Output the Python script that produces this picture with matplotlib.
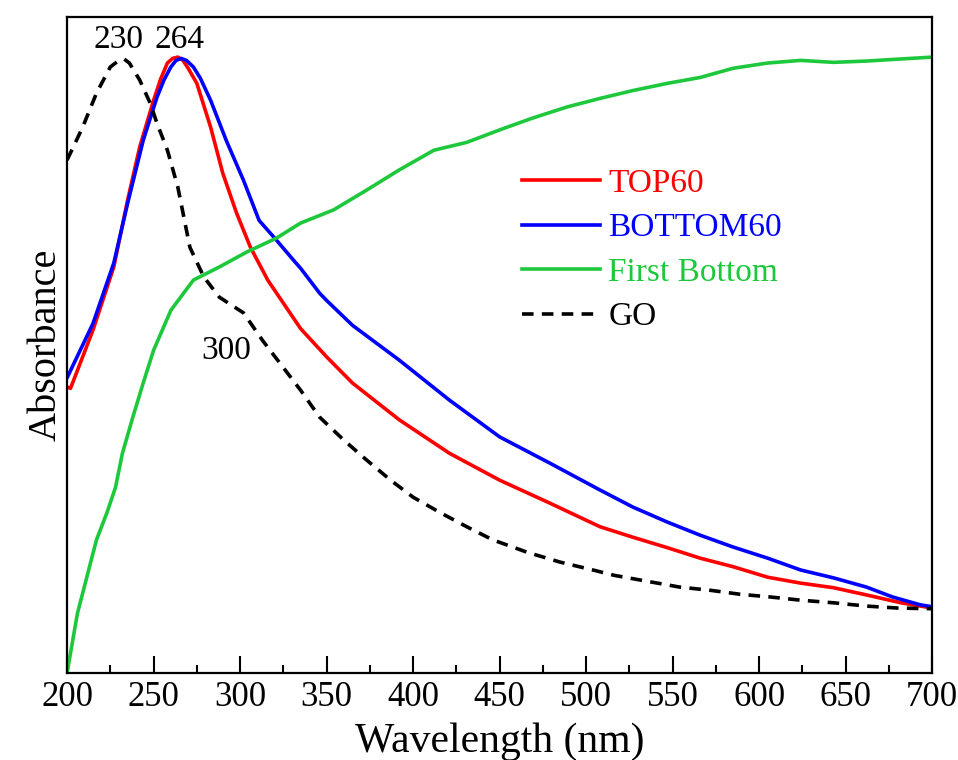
import numpy as np
import matplotlib as mpl
mpl.use("Agg")
import matplotlib.pyplot as plt

plt.rcParams["font.family"] = ["Liberation Serif", "DejaVu Serif"]

# UV-vis spectra (absorbance in arbitrary units)
top60_wl = [200, 202, 215, 227, 235, 242, 250, 254, 258, 261, 264, 267, 270, 275,
            283, 290, 298, 306, 316, 335, 350, 365, 392, 421, 450, 479, 508,
            527, 547, 566, 585, 605, 624, 643, 662, 682, 700]
top60_abs = [0.436, 0.434, 0.523, 0.619, 0.721, 0.802, 0.873, 0.905, 0.930, 0.937,
             0.939, 0.934, 0.922, 0.899, 0.832, 0.762, 0.701, 0.649, 0.599,
             0.525, 0.482, 0.442, 0.386, 0.335, 0.294, 0.259, 0.223, 0.207, 0.191,
             0.175, 0.162, 0.146, 0.137, 0.130, 0.119, 0.107, 0.099]

bottom60_wl = [200, 215, 227, 235, 244, 252, 256, 260, 263, 266, 269, 273, 277, 283,
               292, 302, 311, 321, 331, 335, 346, 350, 365, 392, 421, 450, 479, 508,
               527, 547, 566, 585, 605, 624, 643, 662, 677, 693, 700]
bottom60_abs = [0.450, 0.533, 0.625, 0.716, 0.812, 0.878, 0.904, 0.924, 0.934, 0.937,
                0.934, 0.924, 0.907, 0.873, 0.812, 0.751, 0.690, 0.660, 0.629, 0.617,
                0.579, 0.568, 0.530, 0.477, 0.416, 0.360, 0.320, 0.279, 0.253, 0.230,
                0.210, 0.192, 0.175, 0.157, 0.145, 0.131, 0.116, 0.104, 0.101]

first_wl = [200, 206, 212, 217, 223, 228, 232, 238, 244, 250, 260, 273, 288, 304,
            321, 335, 354, 373, 392, 412, 431, 450, 469, 489, 508, 527, 547, 566,
            585, 605, 624, 643, 662, 681, 700]
first_abs = [0.0, 0.091, 0.152, 0.203, 0.244, 0.283, 0.335, 0.390, 0.442, 0.492,
             0.553, 0.599, 0.619, 0.642, 0.663, 0.686, 0.706, 0.736, 0.767, 0.797,
             0.809, 0.828, 0.846, 0.863, 0.876, 0.888, 0.899, 0.908, 0.922, 0.930,
             0.934, 0.931, 0.933, 0.936, 0.939]

go_wl = [200, 209, 217, 225, 227, 230, 233, 236, 242, 248, 252, 258, 264, 271, 279,
         288, 302, 313, 324, 335, 346, 360, 373, 387, 400, 416, 431, 446, 466, 485,
         504, 516, 537, 554, 572, 589, 606, 624, 643, 662, 680, 700]
go_abs = [0.782, 0.832, 0.884, 0.924, 0.928, 0.934, 0.936, 0.930, 0.904, 0.869,
          0.838, 0.797, 0.741, 0.649, 0.604, 0.573, 0.549, 0.507, 0.469, 0.431,
          0.390, 0.355, 0.325, 0.294, 0.268, 0.244, 0.223, 0.203, 0.184, 0.169,
          0.157, 0.149, 0.139, 0.131, 0.126, 0.120, 0.116, 0.111, 0.107, 0.102,
          0.099, 0.098]

fig = plt.figure(figsize=(9.58, 7.6), dpi=100)
ax = fig.add_axes([0.070, 0.1145, 0.903, 0.863])

lw = 2.6
ax.plot(top60_wl, top60_abs, color="#ff0000", lw=lw, label="TOP60")
ax.plot(bottom60_wl, bottom60_abs, color="#0000ff", lw=lw, label="BOTTOM60")
ax.plot(first_wl, first_abs, color="#1ec83c", lw=lw, label="First Bottom")
ax.plot(go_wl, go_abs, color="black", lw=lw, ls=(0, (3.2, 2.3)), label="GO")

ax.text(230, 0.965, "230", ha="center", va="center", fontsize=24)
ax.text(265, 0.965, "264", ha="center", va="center", fontsize=24)
ax.text(292, 0.492, "300", ha="center", va="center", fontsize=24)

ax.set_xlim(200, 700)
ax.set_ylim(0, 1)
ax.set_xticks(np.arange(200, 701, 50))
ax.set_xticks(np.arange(225, 700, 50), minor=True)
ax.set_yticks([])
ax.tick_params(axis="x", which="major", direction="in", length=12, width=1.5,
               labelsize=25, pad=6)
ax.tick_params(axis="x", which="minor", direction="in", length=6, width=1.5)
for sp in ax.spines.values():
    sp.set_linewidth(1.6)

ax.set_xlabel("Wavelength (nm)", fontsize=30, labelpad=6)
ax.set_ylabel("Absorbance", fontsize=29, labelpad=2)

ax.legend(loc="upper left", bbox_to_anchor=(0.51, 0.79), frameon=False,
          fontsize=24, handlelength=2.35, handletextpad=0.25, labelspacing=0.42,
          labelcolor="linecolor", borderaxespad=0)

fig.savefig("out.png", dpi=100)
